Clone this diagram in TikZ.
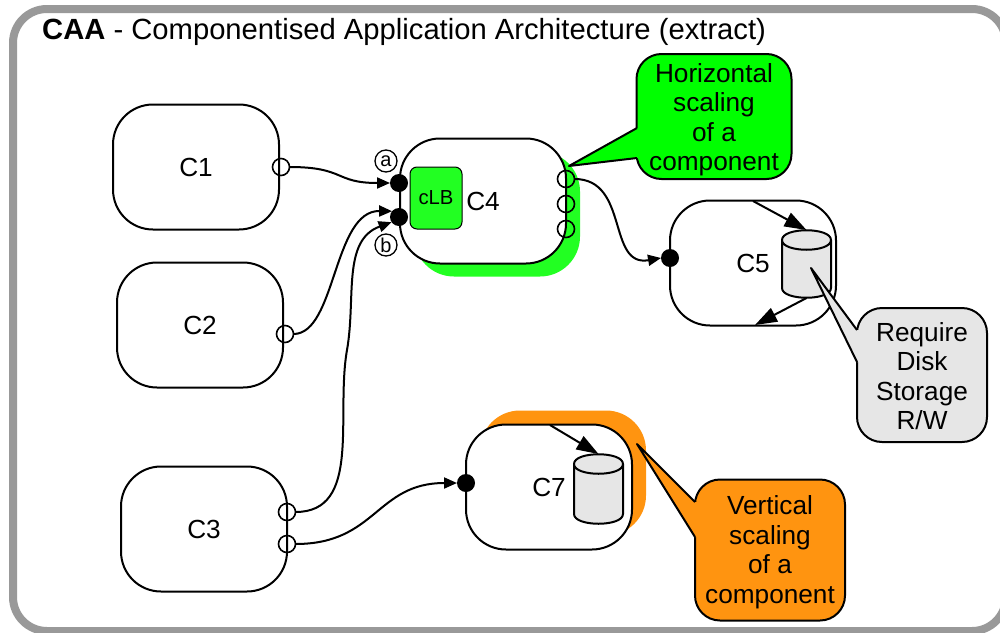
\documentclass[tikz,border=0pt]{standalone}
\usepackage{fontspec}
\setmainfont{Liberation Sans}
\usetikzlibrary{arrows.meta}
\definecolor{cgreen}{HTML}{00FF00}
\definecolor{lgreen}{HTML}{22FF22}
\definecolor{corange}{HTML}{FF9410}
\definecolor{cgrey}{HTML}{E6E6E6}
\definecolor{cframe}{HTML}{999999}
\newcommand{\calltail}[4]{%
	\fill[#1] (#3)--(#2)--(#4)--([xshift=2pt]#4)--([xshift=2pt]#3)--cycle;
	\draw[thick2] (#3)--(#2)--(#4);}
\newcommand{\diskbody}[1]{%
	\draw[thick2,fill=cgrey] ([yshift=-10pt]#1.north west)--([yshift=10pt]#1.south west) .. controls +(0,13) and +(0,13) .. ([yshift=10pt]#1.south east)--([yshift=-10pt]#1.north east) .. controls +(0,-13) and +(0,-13) .. ([yshift=-10pt]#1.north west) .. controls +(0,13) and +(0,13) .. ([yshift=-10pt]#1.north east);}
\begin{document}
\begin{tikzpicture}[x=1pt,y=-1pt]
	\tikzset{thick2/.style={line width=2pt,line join=round},
		comp/.style={draw,thick2,rectangle,rounded corners=40pt,minimum width=166pt,minimum height=125pt,fill=white,inner sep=0pt,outer sep=0pt,font=\fontsize{26.2}{30}\selectfont},
		under/.style={rectangle,rounded corners=40pt,minimum width=166pt,minimum height=125pt,inner sep=0pt,outer sep=0pt},
		port/.style={draw,line width=1.6pt,circle,minimum size=17pt,inner sep=0pt,outer sep=0pt},
		dot/.style={circle,fill=black,minimum size=18pt,inner sep=0pt,outer sep=0pt},
		tag/.style={draw,line width=1.3pt,circle,minimum size=22pt,inner sep=0pt,font=\fontsize{20}{22}\selectfont},
		note/.style={draw,thick2,rectangle,rounded corners=25pt,align=center,inner sep=0pt,outer sep=0pt,font=\fontsize{26.2}{29.5}\selectfont},
		disk/.style={rectangle,minimum width=49pt,inner sep=0pt,outer sep=0pt},
		flow/.style={-{Triangle[length=13pt,width=11pt]},line width=2pt},
		flowb/.style={-{Triangle[length=22pt,width=15pt]},line width=2pt}};
	\useasboundingbox (0,0) rectangle (1000,632);
	\clip (0,0) rectangle (1000,632);
	% frame and title
	\draw[cframe,line width=8pt,rounded corners=34pt] (13,9) rectangle (1006,631);
	\node[anchor=west,inner sep=0pt,font=\fontsize{29.2}{32}\selectfont] (title) at (42,32) {\textbf{CAA} - Componentised Application Architecture (extract)};
	% shadows
	\node[under,fill=lgreen ] (C4s) at (497,214) {};
	\node[under,fill=corange] (C7s) at (563,473) {};
	% components
	\node[comp] (C1) at (196,167) {C1};
	\node[comp] (C2) at (200,325) {C2};
	\node[comp] (C3) at (204,529) {C3};
	\node[comp] (C4) at (483,201) {C4};
	\node[comp] (C5) at (753,263) {C5};
	\node[comp] (C7) at (549,487) {C7};
	\node[draw,line width=1pt,rectangle,rounded corners=7pt,fill=lgreen,minimum width=52pt,minimum height=62pt,inner sep=0pt,font=\fontsize{20.3}{22}\selectfont] (cLB) at (436,198) {cLB};
	\node[disk,minimum height=68pt] (D5) at (806.5,264) {};
	\node[disk,minimum height=70pt] (D7) at (598.5,489) {};
	\diskbody{D5}
	\diskbody{D7}
	% ports
	\node[port] (P1 ) at (281,167) {};
	\node[port] (P2 ) at (285,334) {};
	\node[port] (P3a) at (287,512) {};
	\node[port] (P3b) at (287,544) {};
	\node[port] (P4a) at (566,179) {};
	\node[port] (P4b) at (566,204) {};
	\node[port] (P4c) at (566,229) {};
	\node[dot] (Da) at (399,183) {};
	\node[dot] (Db) at (399,217) {};
	\node[dot] (D5i) at (670,258) {};
	\node[dot] (D7i) at (466,483) {};
	\node[tag] (Ta) at (386,161) {a};
	\node[tag] (Tb) at (386,245) {b};
	% connectors
	\coordinate (C3v) at (347,350);
	\draw[flow] (P1 ) to [out=0,in=180,looseness=1.4] (Da.180);
	\draw[flow] (P2 ) .. controls +(51,0) and +(-59,-1) .. (Db.140);
	\draw[flow] (P3a) to [out=0,in=-100] (C3v) to [out=80,in=200] (Db.215);
	\draw[flow] (P3b) to [out=0,in=180,looseness=1.2] (D7i.180);
	\draw[flow] (P4a) to [out=0,in=190,looseness=1.2] (D5i.180);
	% disk access
	\coordinate (C5a) at (753,201);
	\coordinate (C5b) at (755,325);
	\coordinate (C7a) at (550,425);
	\draw[flowb] (C5a)--(D5.north);
	\draw[flowb] (D5.south)--(C5b);
	\draw[flowb] (C7a)--(D7.north);
	% notes
	\node[note,fill=cgreen ,minimum width=155pt,minimum height=125pt] (Nh) at (714,116.5) {\rule{0pt}{25pt}Horizontal\\scaling\\of a\\component};
	\node[note,fill=cgrey  ,minimum width=130pt,minimum height=134pt] (Nd) at (922,375) {\rule{0pt}{21pt}Require\\Disk\\Storage\\R/W};
	\node[note,fill=corange,minimum width=150pt,minimum height=141pt] (Nv) at (770,550) {\rule{0pt}{23pt}Vertical\\scaling\\of a\\component};
	\coordinate (Nh1) at (637,128);
	\coordinate (Nh2) at (637,158);
	\coordinate (Nhp) at (569,166);
	\coordinate (Nd1) at (857,330);
	\coordinate (Nd2) at (857,362);
	\coordinate (Ndp) at (811,268);
	\coordinate (Nv1) at (695,502);
	\coordinate (Nv2) at (695,537);
	\coordinate (Nvp) at (637,444);
	\calltail{cgreen}{Nhp}{Nh1}{Nh2}
	\calltail{cgrey}{Ndp}{Nd1}{Nd2}
	\calltail{corange}{Nvp}{Nv1}{Nv2}
\end{tikzpicture}
\end{document}
